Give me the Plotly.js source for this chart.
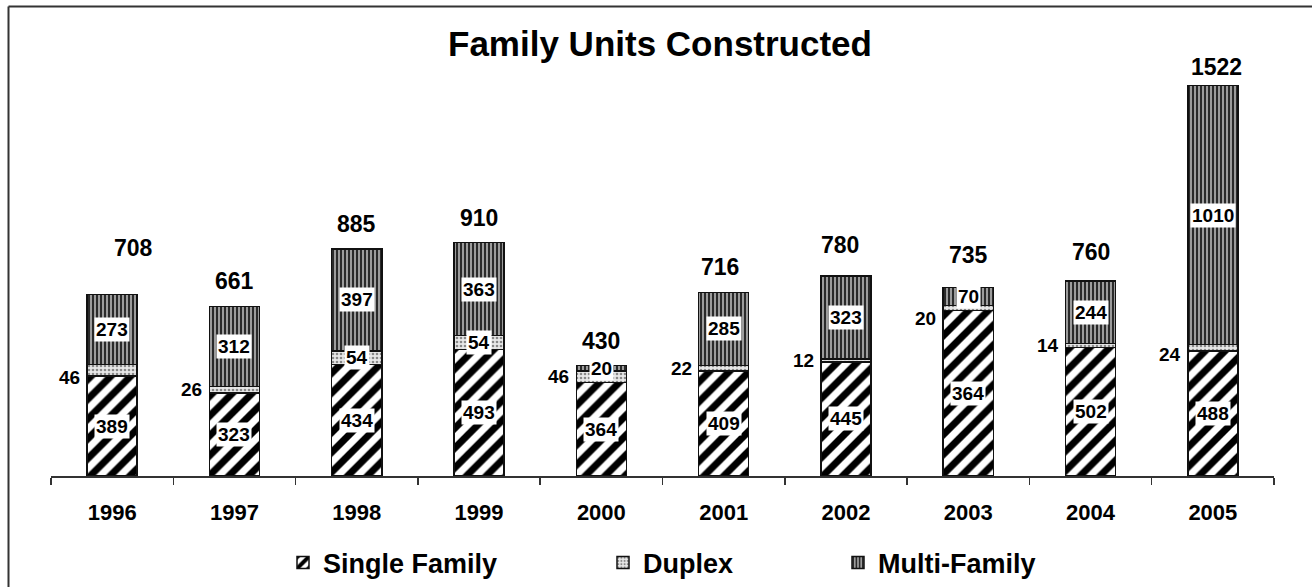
<!DOCTYPE html>
<html>
<head>
<meta charset="utf-8">
<script src="https://cdn.plot.ly/plotly-3.0.1.min.js"></script>
<style>
  html, body { margin: 0; padding: 0; background: #fff; }
  #chart { width: 1312px; height: 587px; }
</style>
</head>
<body>
<div id="chart"></div>
<script>
// ---- Data ----
const years = ['1996', '1997', '1998', '1999', '2000', '2001', '2002', '2003', '2004', '2005'];
const singleFamily = [389, 323, 434, 493, 364, 409, 445, 645, 502, 488];
const singleFamilyLabels = ['389', '323', '434', '493', '364', '409', '445', '364', '502', '488'];
const duplex = [46, 26, 54, 54, 46, 22, 12, 20, 14, 24];
const multiFamily = [273, 312, 397, 363, 20, 285, 323, 70, 244, 1010];
const seriesNames = ['Single Family', 'Duplex', 'Multi-Family'];

// ---- Styling ----
const FONT = 'Liberation Sans, Arial, Helvetica, sans-serif';
const W = 1312, H = 587;
const M = { l: 51, r: 38, t: 40, b: 111 };
const plotW = W - M.l - M.r, plotH = H - M.t - M.b;
const lineStyle = { color: '#111', width: 1.5 };
const barWidth = 0.41;
// manual label nudges (pixels), as hand-placed in the original
const totalNudgeX = [21, 0, 0, 0, 0, -4, -6, 0, 0, 4];
const totalNudgeY = [21, 0, 0, 0, 0, 0, 6, 7, 4, -6];
const duplexNudgeY = [-7, 0, 0, 0, 0, 0, 0, -10, 0, -7];

const traces = [
  {
    type: 'bar', name: seriesNames[0], x: years, y: singleFamily, width: barWidth,
    legend: 'legend',
    marker: { color: '#fff', line: lineStyle,
      pattern: { shape: '/', fgcolor: '#000', bgcolor: '#fff', size: 14, solidity: 0.5 } },
    hoverinfo: 'x+y'
  },
  {
    type: 'bar', name: seriesNames[1], x: years, y: duplex, width: barWidth,
    legend: 'legend2',
    marker: { color: '#ddd', line: lineStyle,
      pattern: { shape: '.', fgcolor: '#888', bgcolor: '#e8e8e8', size: 4, solidity: 0.35 } },
    hoverinfo: 'x+y'
  },
  {
    type: 'bar', name: seriesNames[2], x: years, y: multiFamily, width: barWidth,
    legend: 'legend3',
    marker: { color: '#999', line: lineStyle,
      pattern: { shape: '|', fgcolor: '#2a2a2a', bgcolor: '#9c9c9c', size: 4, solidity: 0.5 } },
    hoverinfo: 'x+y'
  }
];

const annotations = [];
const insideFont = { family: FONT, size: 19, color: '#000' };
years.forEach((yr, i) => {
  const s = singleFamily[i], d = duplex[i], m = multiFamily[i];
  const total = s + d + m;
  annotations.push({ x: i, y: s / 2, xref: 'x', yref: 'y', text: '<b>' + singleFamilyLabels[i] + '</b>',
    showarrow: false, font: insideFont, bgcolor: '#ffffff', borderpad: 1 });
  if (d > 50) {
    annotations.push({ x: i, y: s + d / 2, xref: 'x', yref: 'y', text: '<b>' + d + '</b>',
      showarrow: false, font: insideFont, bgcolor: '#ffffff', borderpad: 1 });
  } else {
    annotations.push({ x: i, y: s + d / 2, xref: 'x', yref: 'y', text: '<b>' + d + '</b>',
      showarrow: false, font: insideFont, xanchor: 'right', xshift: -30, yshift: duplexNudgeY[i] });
  }
  annotations.push({ x: i, y: s + d + m / 2, xref: 'x', yref: 'y', text: '<b>' + m + '</b>',
    showarrow: false, font: insideFont, bgcolor: '#ffffff', borderpad: 1 });
  annotations.push({ x: i, y: total, xref: 'x', yref: 'y', text: '<b>' + total + '</b>',
    showarrow: false, yanchor: 'bottom', yshift: 10 + totalNudgeY[i], xshift: totalNudgeX[i],
    font: { family: FONT, size: 23, color: '#000' } });
});

const px2x = px => (px - M.l) / plotW;
const py2y = py => (H - M.b - py) / plotH;
const shapes = [
  { type: 'line', xref: 'paper', yref: 'paper', x0: px2x(8.5), x1: px2x(1312), y0: py2y(6.5), y1: py2y(6.5),
    line: { color: '#333', width: 2 } },
  { type: 'line', xref: 'paper', yref: 'paper', x0: px2x(8.5), x1: px2x(8.5), y0: py2y(6.5), y1: py2y(587),
    line: { color: '#333', width: 2 } }
];

const legendBase = {
  xref: 'container', yref: 'container', y: 1 - 563 / H, yanchor: 'middle', xanchor: 'left',
  orientation: 'h', bgcolor: 'rgba(0,0,0,0)',
  font: { family: FONT, size: 27, color: '#000', weight: 'bold' }
};

const layout = {
  width: W, height: H,
  margin: M,
  paper_bgcolor: '#fff', plot_bgcolor: '#fff',
  font: { family: FONT, color: '#000' },
  title: {
    text: 'Family Units Constructed',
    font: { family: FONT, size: 35, color: '#000', weight: 'bold' },
    xref: 'container', yref: 'container', x: 660 / W, xanchor: 'center', y: 1 - 44 / H, yanchor: 'middle'
  },
  barmode: 'stack',
  xaxis: {
    type: 'category', range: [-0.5, 9.5], tickson: 'boundaries', ticks: 'outside', ticklen: 7,
    tickcolor: '#333', tickwidth: 1.5, showline: true, linecolor: '#333', linewidth: 1.5,
    showgrid: false, zeroline: false, ticklabelstandoff: 16,
    tickfont: { family: FONT, size: 22, color: '#000', weight: 'bold' }, fixedrange: true
  },
  yaxis: { visible: false, range: [0, 1700], showgrid: false, zeroline: false, fixedrange: true },
  showlegend: true,
  legend: Object.assign({}, legendBase, { x: 283 / W }),
  legend2: Object.assign({}, legendBase, { x: 603 / W }),
  legend3: Object.assign({}, legendBase, { x: 838 / W }),
  annotations: annotations,
  shapes: shapes
};

Plotly.newPlot('chart', traces, layout, { displayModeBar: false, staticPlot: true });
</script>
</body>
</html>
